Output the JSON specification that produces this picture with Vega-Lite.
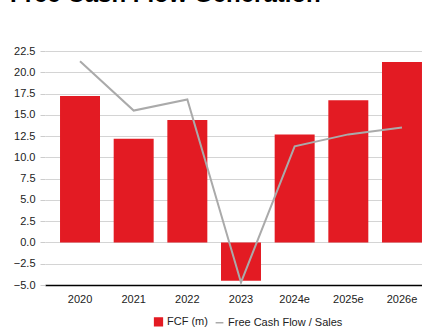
{
  "$schema": "https://vega.github.io/schema/vega-lite/v6.json",
  "width": 392,
  "height": 234,
  "autosize": {"type": "none"},
  "padding": {"left": 45, "top": 51, "right": 0, "bottom": 44},
  "background": "white",
  "config": {"view": {"stroke": null}},
  "title": {
    "text": "Free Cash Flow Generation",
    "anchor": "start",
    "frame": "group",
    "orient": "top",
    "baseline": "alphabetic",
    "offset": 19,
    "dx": -35,
    "font": "Liberation Sans",
    "fontSize": 24,
    "fontWeight": "bold",
    "color": "#000000"
  },
  "data": {
    "values": [
      {"year": "2020", "fcf": 17.2, "ratio": 21.3},
      {"year": "2021", "fcf": 12.2, "ratio": 15.5},
      {"year": "2022", "fcf": 14.4, "ratio": 16.8},
      {"year": "2023", "fcf": -4.5, "ratio": -4.7},
      {"year": "2024e", "fcf": 12.7, "ratio": 11.3},
      {"year": "2025e", "fcf": 16.7, "ratio": 12.7},
      {"year": "2026e", "fcf": 21.2, "ratio": 13.5}
    ]
  },
  "encoding": {
    "x": {
      "field": "year",
      "type": "ordinal",
      "sort": null,
      "scale": {"paddingInner": 0.255, "paddingOuter": 0.28},
      "axis": {
        "title": null,
        "labelAngle": 0,
        "labelFont": "Liberation Sans",
        "labelFontSize": 11,
        "labelColor": "#222222",
        "labelPadding": 8,
        "domainColor": "#000000",
        "domainWidth": 1.5,
        "ticks": false,
        "grid": false
      }
    }
  },
  "layer": [
    {
      "mark": {"type": "bar"},
      "encoding": {
        "y": {
          "field": "fcf",
          "type": "quantitative",
          "scale": {"domain": [-5, 22.5], "nice": false},
          "axis": {
            "values": [-5, -2.5, 0, 2.5, 5, 7.5, 10, 12.5, 15, 17.5, 20, 22.5],
            "format": ".1f",
            "labelOverlap": false,
            "labelFont": "Liberation Sans",
            "labelFontSize": 11,
            "labelColor": "#222222",
            "labelPadding": 5,
            "domain": false,
            "tickSize": 5,
            "tickColor": "#cccccc",
            "gridColor": "#d4d4d4",
            "gridWidth": 1,
            "title": null
          }
        },
        "color": {
          "datum": "FCF (m)",
          "scale": {
            "domain": ["FCF (m)", "Free Cash Flow / Sales"],
            "range": ["#e31b23", "#aaaaaa"]
          },
          "legend": {
            "title": null,
            "orient": "none",
            "legendX": 108,
            "legendY": 265,
            "direction": "horizontal",
            "labelFont": "Liberation Sans",
            "labelFontSize": 11,
            "labelColor": "#222222",
            "symbolSize": 60,
            "columnPadding": 4,
            "labelOffset": 3,
            "encode": {
              "symbols": {
                "update": {
                  "shape": {"signal": "datum.value === 'FCF (m)' ? 'square' : 'stroke'"},
                  "stroke": {"signal": "datum.value === 'FCF (m)' ? '#e31b23' : '#aaaaaa'"},
                  "fill": {"signal": "datum.value === 'FCF (m)' ? '#e31b23' : 'transparent'"},
                  "strokeWidth": {"value": 1.5}
                }
              }
            }
          }
        }
      }
    },
    {
      "mark": {"type": "line", "strokeWidth": 2},
      "encoding": {
        "y": {
          "field": "ratio",
          "type": "quantitative",
          "axis": {
            "values": [-5, -2.5, 0, 2.5, 5, 7.5, 10, 12.5, 15, 17.5, 20, 22.5],
            "format": ".1f",
            "labelOverlap": false,
            "labelFont": "Liberation Sans",
            "labelFontSize": 11,
            "labelColor": "#222222",
            "labelPadding": 5,
            "domain": false,
            "tickSize": 5,
            "tickColor": "#cccccc",
            "gridColor": "#d4d4d4",
            "gridWidth": 1,
            "title": null
          }
        },
        "color": {"datum": "Free Cash Flow / Sales"}
      }
    }
  ]
}
